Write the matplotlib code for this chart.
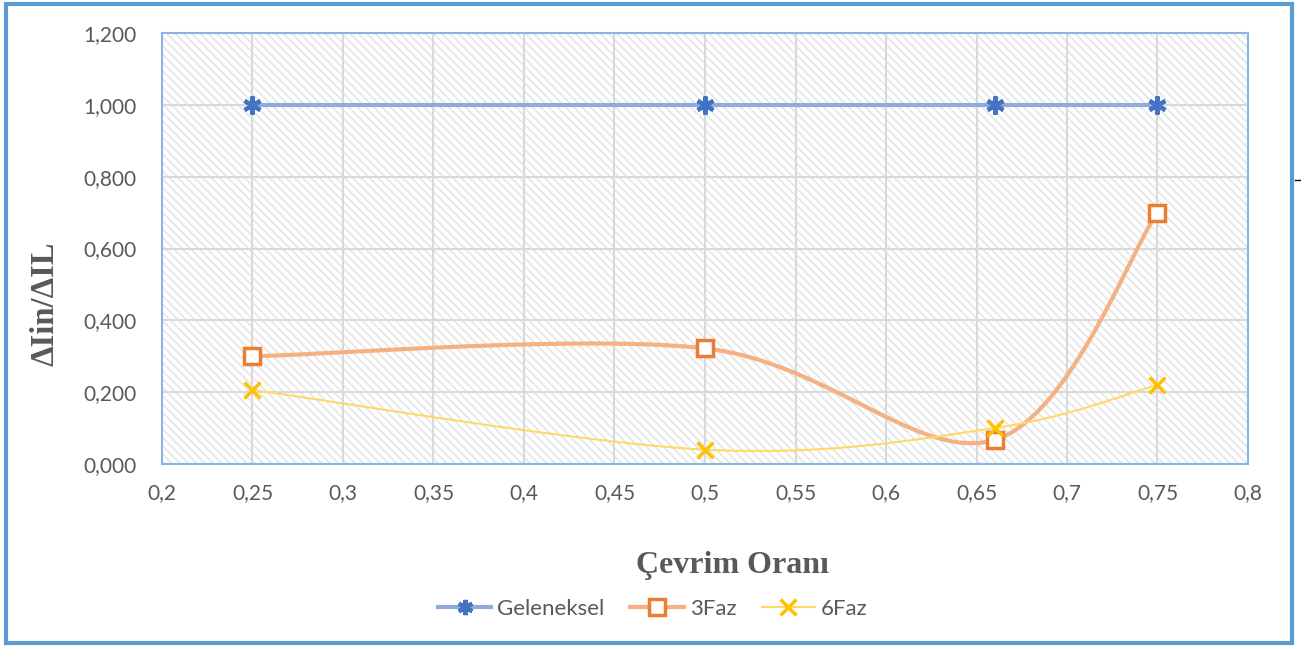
import matplotlib
matplotlib.use("Agg")
import matplotlib.pyplot as plt
import numpy as np
from matplotlib.patches import Rectangle
from matplotlib.lines import Line2D
from matplotlib.ticker import FuncFormatter

# data
x_vals = [0.25, 0.5, 0.66, 0.75]
geleneksel = [1.0, 1.0, 1.0, 1.0]
faz3 = [0.300, 0.322, 0.067, 0.700]
faz6 = [0.206, 0.040, 0.100, 0.220]
x_ticks = [0.2, 0.25, 0.3, 0.35, 0.4, 0.45, 0.5, 0.55, 0.6, 0.65, 0.7, 0.75, 0.8]
y_ticks = [0, 0.2, 0.4, 0.6, 0.8, 1.0, 1.2]


def excel_smooth(ax, xs, ys, n=40):
    # Excel style smoothing: bezier with control points at 1/6 of neighbour diffs, in pixel space
    pts = ax.transData.transform(np.column_stack([xs, ys]))
    out = []
    m = len(pts)
    for i in range(m - 1):
        p0 = pts[max(i - 1, 0)]
        p1 = pts[i]
        p2 = pts[i + 1]
        p3 = pts[min(i + 2, m - 1)]
        c1 = p1 + (p2 - p0) / 6.0
        c2 = p2 - (p3 - p1) / 6.0
        t = np.linspace(0, 1, n)[:, None]
        seg = ((1 - t) ** 3) * p1 + 3 * ((1 - t) ** 2) * t * c1 + 3 * (1 - t) * t ** 2 * c2 + t ** 3 * p2
        out.append(seg if i == 0 else seg[1:])
    out = np.vstack(out)
    d = ax.transData.inverted().transform(out)
    return d[:, 0], d[:, 1]


plt.rcParams['hatch.linewidth'] = 1.2
plt.rcParams['hatch.color'] = '#e6e6e6'

fig = plt.figure(figsize=(13.01, 6.47), dpi=100)
ax = fig.add_axes([162 / 1301, 1 - 464 / 647, (1248 - 162) / 1301, (464 - 33) / 647])

ax.set_xlim(0.2, 0.8)
ax.set_ylim(0, 1.2)

bg = Rectangle((0, 0), 1, 1, transform=ax.transAxes, facecolor='white',
               edgecolor='#e6e6e6', hatch='\\\\\\\\', linewidth=0, zorder=0)
ax.add_patch(bg)

ax.set_xticks(x_ticks)
ax.set_yticks(y_ticks)
ax.xaxis.set_major_formatter(FuncFormatter(lambda v, p: ('%g' % round(v, 2)).replace('.', ',')))
ax.yaxis.set_major_formatter(FuncFormatter(lambda v, p: ('%.3f' % v).replace('.', ',')))
ax.grid(True, color='#d9d9d9', linewidth=1.5, zorder=1)
ax.set_axisbelow(True)
ax.tick_params(length=0, labelsize=15, labelcolor='#595959')
ax.tick_params(axis='x', pad=14)
ax.tick_params(axis='y', pad=18)
for lab in ax.get_xticklabels() + ax.get_yticklabels():
    lab.set_fontfamily('Lato')
for s in ax.spines.values():
    s.set_color('#8eb4e3')
    s.set_linewidth(1.5)

fig.canvas.draw()

ax.plot(x_vals, geleneksel, color='#8faadc', linewidth=3, zorder=3)
ax.plot(x_vals, geleneksel, linestyle='none', marker=(6, 2, 0), markersize=13,
        markeredgewidth=3, color='#4472c4', zorder=5)

sx, sy = excel_smooth(ax, x_vals, faz3)
ax.plot(sx, sy, color='#f4b183', linewidth=3, zorder=3)
ax.plot(x_vals, faz3, linestyle='none', marker='s', markersize=12, markerfacecolor='white',
        markeredgecolor='#ed7d31', markeredgewidth=2.5, zorder=5)

sx, sy = excel_smooth(ax, x_vals, faz6)
ax.plot(sx, sy, color='#ffd966', linewidth=1.5, zorder=3)
ax.plot(x_vals, faz6, linestyle='none', marker='x', markersize=12, markeredgewidth=2.5,
        color='#ffc000', zorder=6)

ax.set_xlabel('Çevrim Oranı', fontfamily='Liberation Serif', fontweight='bold',
              fontsize=23, color='#595959')
ax.xaxis.set_label_coords((732 - 162) / 1086, -(551 - 464) / 431)
ax.set_ylabel('ΔIin/ΔIL', fontfamily='Liberation Serif', fontweight='bold',
              fontsize=23.5, color='#595959')
ax.yaxis.set_label_coords(-(162 - 61) / 1086, (464 - 304) / 431)

# legend
h1 = Line2D([], [], color='#8faadc', linewidth=3, marker=(6, 2, 0), markersize=11,
            markeredgewidth=3, markeredgecolor='#4472c4')
h2 = Line2D([], [], color='#f4b183', linewidth=3, marker='s', markersize=11,
            markerfacecolor='white', markeredgecolor='#ed7d31', markeredgewidth=2.5)
h3 = Line2D([], [], color='#ffd966', linewidth=1.5, marker='x', markersize=11,
            markeredgewidth=2.5, markeredgecolor='#ffc000')
leg = fig.legend([h1, h2, h3], ['Geleneksel', '3Faz', '6Faz'], loc='center',
                 bbox_to_anchor=(653 / 1301, 1 - 609 / 647), ncol=3, frameon=False,
                 handlelength=2.4, columnspacing=1.15, handletextpad=0.27,
                 prop={'family': 'Lato', 'size': 16})
for t in leg.get_texts():
    t.set_color('#595959')

# outer border
fig.add_artist(Rectangle((6 / 1301, 4 / 647), (1292 - 6) / 1301, (643 - 4) / 647,
                         transform=fig.transFigure, fill=False, edgecolor='#5b9bd5',
                         linewidth=3))
fig.add_artist(Line2D([1295 / 1301, 1300 / 1301], [1 - 180 / 647, 1 - 180 / 647],
                      transform=fig.transFigure, color='black', linewidth=1))

fig.savefig('out.png', dpi=100)
